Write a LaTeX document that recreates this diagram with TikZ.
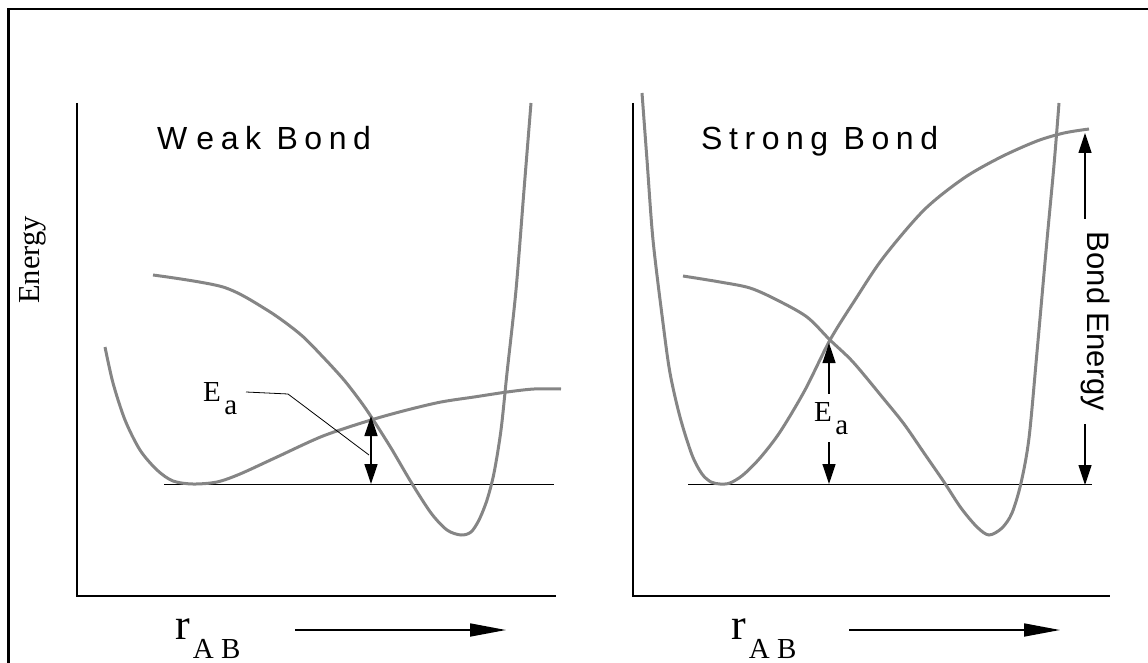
\documentclass[tikz,border=0pt]{standalone}
\usepackage{fontspec}
\setmainfont{Liberation Serif}
\newfontfamily\titlefont[LetterSpace=20.5]{Liberation Sans}
\newfontfamily\labelfont{Liberation Sans}
\usetikzlibrary{arrows.meta}
\definecolor{curvegray}{HTML}{858585}
\newcommand{\rablabel}{{\fontsize{44}{50}\selectfont r}\kern3pt\raisebox{-19pt}{\fontsize{29}{34}\selectfont A B}}
\newcommand{\ealabel}{E\kern3.5pt\raisebox{-13pt}{a}}

\begin{document}
\begin{tikzpicture}[x=1pt, y=-1pt, >={Triangle[length=20pt, width=13pt]},
  curve/.style={curvegray, line width=3pt},
  axis/.style={line width=2.3pt},
  level/.style={line width=0.9pt},
  gaparrow/.style={<->, line width=1.3pt},
  rarrow/.style={-{Triangle[length=36pt, width=13pt]}, line width=1.7pt},
  bondtitle/.style={font=\titlefont\fontsize{32}{38}\selectfont, inner sep=0pt, anchor=base west},
  ealbl/.style={font=\fontsize{29}{34}\selectfont, anchor=base west}]

\useasboundingbox (0,0) rectangle (1148,663);

% Frame
\draw[line width=2.3pt] (8.5,663) -- (8.5,9) -- (1148,9);

% Energy label
\node[rotate=90, font=\fontsize{30.5}{36}\selectfont] (energy) at (33,260) {Energy};

%% Weak bond
\draw[axis] (77,103) -- (77,596) -- (556,596);
\node[bondtitle] (weak) at (157,150) {W\kern9pt eak Bond};
\draw[level] (164,484) -- (554,484);

% Curves
\draw[curve] plot[smooth] coordinates {(105,347) (113,383) (125,420) (140,450) (157,470) (173,481) (193,484)
  (217,482) (240,474) (277,457) (323,436) (371,420) (407,410) (441,402) (474,397) (507,392) (534,389) (561,389)};
\draw[curve] plot[smooth] coordinates {(153,275) (223,287) (267,310) (300,334) (323,357) (344,380) (361,402)
  (372,418) (391,448) (411,482) (431,513) (447,530) (461,535) (471,532) (479,520) (487,500) (494,473)
  (501,430) (507,373) (516,290) (524,190) (531,103)};

% Activation energy
\coordinate (eaLtop) at (371,416);
\coordinate (eaLbot) at (371,484);
\draw[gaparrow] (eaLtop) -- (eaLbot);
\node[ealbl, inner sep=0pt] (eaL) at (203,401.7) {\ealabel};
\coordinate (leadA) at (246,392);
\coordinate (leadB) at (288,394);
\coordinate (leadC) at (369,455);
\draw[line width=0.8pt] (leadA) -- (leadB) -- (leadC);

% Distance axis
\node[anchor=base west, inner sep=0pt] (rabL) at (175,639) {\rablabel};
\coordinate (rL1) at (295,630);
\coordinate (rL2) at (506,630);
\draw[rarrow] (rL1) -- (rL2);

%% Strong bond
\draw[axis] (633,103) -- (633,596) -- (1110,596);
\node[bondtitle] (strong) at (701,150) {Strong Bond};
\draw[level] (688,484) -- (1092,484);

% Curves
\draw[curve] plot[smooth] coordinates {(642,93) (647,160) (653,240) (663,323) (670,373) (680,417) (692,455)
  (702,474) (711,482) (720,484) (730,483) (743,475) (760,458) (780,432) (805,390) (830,340) (855,300)
  (883,258) (924,210) (964,178) (1001,157) (1037,141) (1064,133) (1089,129)};
\draw[curve] plot[smooth] coordinates {(683,276) (720,282) (750,288) (777,300) (807,317) (830,340) (853,362)
  (883,398) (904,424) (924,453) (944,482) (961,508) (977,527) (989,535) (1002,528) (1012,513) (1021,483)
  (1029,438) (1037,352) (1047,240) (1054,165) (1059,103)};

% Activation energy
\coordinate (eaRtop) at (829,343);
\coordinate (eaRbot) at (829,484);
\draw[gaparrow] (eaRtop) -- (eaRbot);
\node[ealbl, fill=white, inner xsep=1pt, inner ysep=8pt] (eaR) at (813,421) {\ealabel};

% Bond energy
\coordinate (beTop) at (1085,133);
\coordinate (beBot) at (1085,485);
\draw[gaparrow] (beTop) -- (beBot);
\node[rotate=-90, anchor=base, fill=white, inner xsep=13pt, inner ysep=2pt,
  font=\labelfont\fontsize{31}{36}\selectfont] (bondE) at (1087,321.5) {Bond Energy};

% Distance axis
\node[anchor=base west, inner sep=0pt] (rabR) at (731,639) {\rablabel};
\coordinate (rR1) at (849,630);
\coordinate (rR2) at (1060,630);
\draw[rarrow] (rR1) -- (rR2);

\end{tikzpicture}
\end{document}
